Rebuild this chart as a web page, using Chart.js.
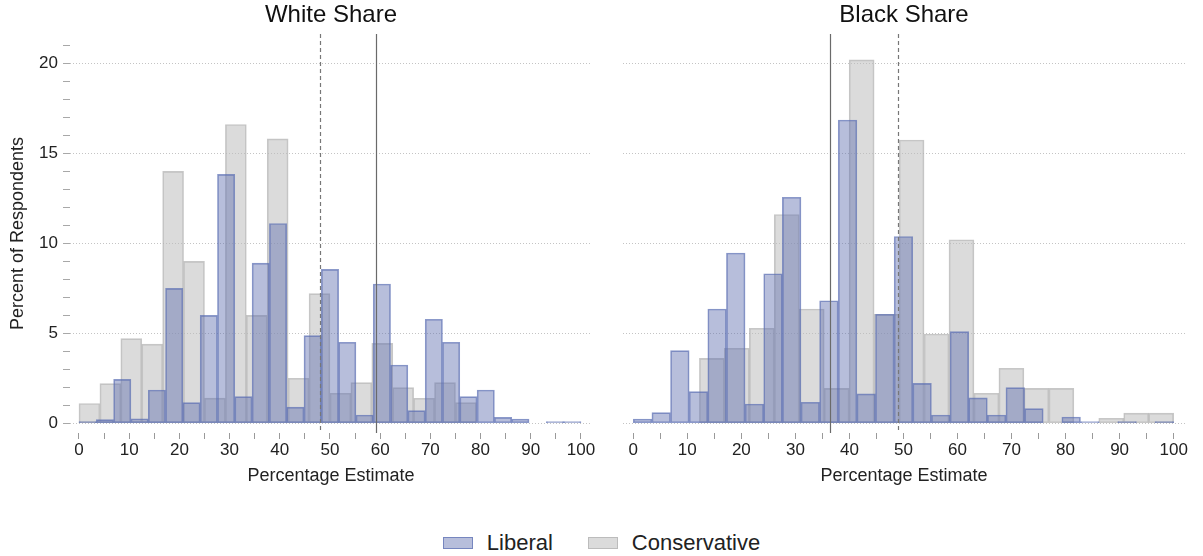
<!DOCTYPE html>
<html>
<head>
<meta charset="utf-8">
<title>White Share / Black Share</title>
<script src="https://cdn.jsdelivr.net/npm/chart.js@4.4.1/dist/chart.umd.min.js"></script>
<style>
  body { margin: 0; background: #fff; }
  #page { position: relative; width: 1203px; height: 556px; overflow: hidden; font-family: "Liberation Sans", Arial, sans-serif; color: #222; }
  #whiteChart { position: absolute; left: 0; top: 0; }
  #blackChart { position: absolute; left: 606px; top: 0; }
  #legend { position: absolute; left: 0; top: 530px; width: 1203px; display: flex; justify-content: center; align-items: center; font-size: 22px; line-height: 26px; }
  .item { display: flex; align-items: center; }
  .swatch { width: 28px; height: 10px; margin-right: 14px; }
  .gap { width: 35px; }
</style>
</head>
<body>
<div id="page">
  <canvas id="whiteChart" width="606" height="500"></canvas>
  <canvas id="blackChart" width="597" height="500"></canvas>
  <div id="legend"></div>
</div>
<script>
// histogram bins: liberal answers use 29 bins over 0-100,
// conservative answers use their own binning per question
const liberalBinStart = 0;
const liberalBinWidth = 100 / 29;
const whiteConsBinStart = 0;
const whiteConsBinWidth = 100 / 24;
const blackConsBinStart = 3;
const blackConsBinWidth = 97 / 21;

// percent of respondents in each bin
const whiteLiberal = [0.1, 0.2, 2.44, 0.25, 1.85, 7.5, 1.15, 6.0, 13.83, 1.48, 8.9, 11.1, 0.9, 4.87, 8.55,
  4.5, 0.46, 7.74, 3.24, 0.7, 5.78, 4.5, 1.48, 1.85, 0.33, 0.24, 0, 0.1, 0.1];
const whiteConservative = [1.1, 2.2, 4.7, 4.4, 14.0, 9.0, 1.4, 16.6, 6.0, 15.8, 2.5, 7.2, 1.67, 2.26, 4.44,
  1.98, 1.39, 2.26, 1.15, 0, 0, 0, 0, 0];
const blackLiberal = [0.24, 0.59, 4.04, 1.76, 6.35, 9.46, 1.07, 8.31, 12.56, 1.17, 6.81, 16.85, 1.63, 6.06, 10.38,
  2.22, 0.46, 5.09, 1.41, 0.46, 1.98, 0.81, 0, 0.35, 0.1, 0, 0.1, 0, 0.1];
const blackConservative = [0, 0, 3.61, 4.17, 5.28, 11.6, 6.35, 1.94, 20.19, 6.06, 15.74, 4.96, 10.2, 1.67, 3.06,
  1.94, 1.94, 0, 0.28, 0.56, 0.56];

// reference lines (solid / dashed)
const whiteDashedAt = 48.0;
const whiteSolidAt = 59.2;
const blackSolidAt = 36.4;
const blackDashedAt = 49.0;

const seriesNames = ["Liberal", "Conservative"];
const panelTitles = ["White Share", "Black Share"];
const xTitle = "Percentage Estimate";
const yTitle = "Percent of Respondents";

const liberalFill = "rgba(95, 110, 175, 0.45)";
const liberalBorder = "rgba(90, 110, 180, 0.7)";
const consFill = "rgba(190, 190, 190, 0.55)";
const consBorder = "rgba(175, 175, 175, 0.7)";

Chart.defaults.font.family = "'Liberation Sans', Arial, sans-serif";
Chart.defaults.color = "#222";

function toBins(values, start, width) {
    return values.map((v, i) => ({ x: start + width * (i + 0.5), y: v }));
}

function makeMarkerLines(dashedAt, solidAt) {
    return {
        id: "markerLines",
        afterDatasetsDraw(chart) {
            const { ctx, chartArea, scales } = chart;
            const lines = [
                { value: dashedAt, dash: [4, 3], color: "#777" },
                { value: solidAt, dash: [], color: "#6a6a6a" }
            ];
            lines.forEach(line => {
                const xPos = Math.round(scales.x.getPixelForValue(line.value)) + 0.5;
                ctx.save();
                ctx.strokeStyle = line.color;
                ctx.lineWidth = 1.2;
                ctx.setLineDash(line.dash);
                ctx.beginPath();
                ctx.moveTo(xPos, chartArea.top);
                ctx.lineTo(xPos, chartArea.bottom);
                ctx.stroke();
                ctx.restore();
            });
        }
    };
}

function makePanel(canvasId, title, liberal, conservative, consStart, consWidth, dashedAt, solidAt, showYAxis) {
    const xRange = showYAxis ? { min: -1.79, max: 102.2 } : { min: -1.9, max: 102.1 };
    const gridColor = ctx => (ctx.tick && ctx.tick.value % 5 === 0) ? "#c4c4c4" : "rgba(0,0,0,0)";

    return new Chart(document.getElementById(canvasId), {
        type: "bar",
        data: {
            datasets: [{
                label: seriesNames[0],
                data: toBins(liberal, liberalBinStart, liberalBinWidth),
                xAxisID: "x",
                backgroundColor: liberalFill,
                borderColor: liberalBorder,
                borderWidth: 1,
                borderSkipped: false,
                barPercentage: 1,
                categoryPercentage: 1,
                grouped: false
            }, {
                label: seriesNames[1],
                data: toBins(conservative, consStart, consWidth),
                xAxisID: "x2",
                backgroundColor: consFill,
                borderColor: consBorder,
                borderWidth: 1,
                borderSkipped: false,
                barPercentage: 1,
                categoryPercentage: 1,
                grouped: false
            }]
        },
        options: {
            responsive: false,
            animation: false,
            layout: {
                padding: showYAxis ? { left: 0, right: 14, top: 3, bottom: 0 } : { left: 17, right: 18, top: 3, bottom: 0 }
            },
            plugins: {
                legend: { display: false },
                tooltip: { enabled: false },
                title: {
                    display: true,
                    text: title,
                    fullSize: false,
                    color: "#111",
                    font: { size: 24, weight: "normal", lineHeight: 1 },
                    padding: { top: 0, bottom: 7 }
                }
            },
            scales: {
                x: {
                    type: "linear",
                    position: "bottom",
                    offset: false,
                    min: xRange.min,
                    max: xRange.max,
                    afterFit: scale => { scale.height = 67; },
                    border: { display: false },
                    grid: { offset: false, drawOnChartArea: false, drawTicks: true, tickLength: 6, tickColor: "#9a9a9a" },
                    ticks: {
                        stepSize: 5,
                        includeBounds: false,
                        autoSkip: false,
                        maxRotation: 0,
                        padding: 1,
                        font: { size: 17 },
                        callback: v => (v % 10 === 0 ? String(v) : "")
                    },
                    title: {
                        display: true,
                        text: xTitle,
                        color: "#222",
                        font: { size: 18 },
                        padding: { top: 0, bottom: 13 }
                    }
                },
                // hidden twin axis so the conservative bins get their own bar width
                x2: {
                    type: "linear",
                    position: "bottom",
                    display: false,
                    offset: false,
                    grid: { offset: false },
                    min: xRange.min,
                    max: xRange.max,
                    ticks: { stepSize: 50, includeBounds: false }
                },
                y: {
                    type: "linear",
                    min: -0.54,
                    max: 21.63,
                    afterFit: scale => { scale.width = showYAxis ? 70 : 0; },
                    border: { display: false, dash: [1, 2] },
                    grid: {
                        color: gridColor,
                        drawTicks: showYAxis,
                        tickLength: 7,
                        tickColor: "#a8a8a8",
                        tickBorderDash: []
                    },
                    ticks: {
                        display: showYAxis,
                        stepSize: 1,
                        includeBounds: false,
                        autoSkip: false,
                        padding: 5,
                        font: { size: 17 },
                        callback: v => (v % 5 === 0 ? String(v) : "")
                    },
                    title: {
                        display: showYAxis,
                        text: yTitle,
                        color: "#222",
                        font: { size: 18 },
                        padding: { top: 7, bottom: 0 }
                    }
                }
            }
        },
        plugins: [makeMarkerLines(dashedAt, solidAt)]
    });
}

makePanel("whiteChart", panelTitles[0], whiteLiberal, whiteConservative,
    whiteConsBinStart, whiteConsBinWidth, whiteDashedAt, whiteSolidAt, true);
makePanel("blackChart", panelTitles[1], blackLiberal, blackConservative,
    blackConsBinStart, blackConsBinWidth, blackDashedAt, blackSolidAt, false);

// shared legend under both panels
const legend = document.getElementById("legend");
[[seriesNames[0], liberalFill, liberalBorder], [seriesNames[1], consFill, consBorder]].forEach((entry, i) => {
    if (i > 0) {
        const gap = document.createElement("div");
        gap.className = "gap";
        legend.appendChild(gap);
    }
    const item = document.createElement("div");
    item.className = "item";
    const swatch = document.createElement("div");
    swatch.className = "swatch";
    swatch.style.background = entry[1];
    swatch.style.border = "1px solid " + entry[2];
    const label = document.createElement("span");
    label.textContent = entry[0];
    item.appendChild(swatch);
    item.appendChild(label);
    legend.appendChild(item);
});
</script>
</body>
</html>
